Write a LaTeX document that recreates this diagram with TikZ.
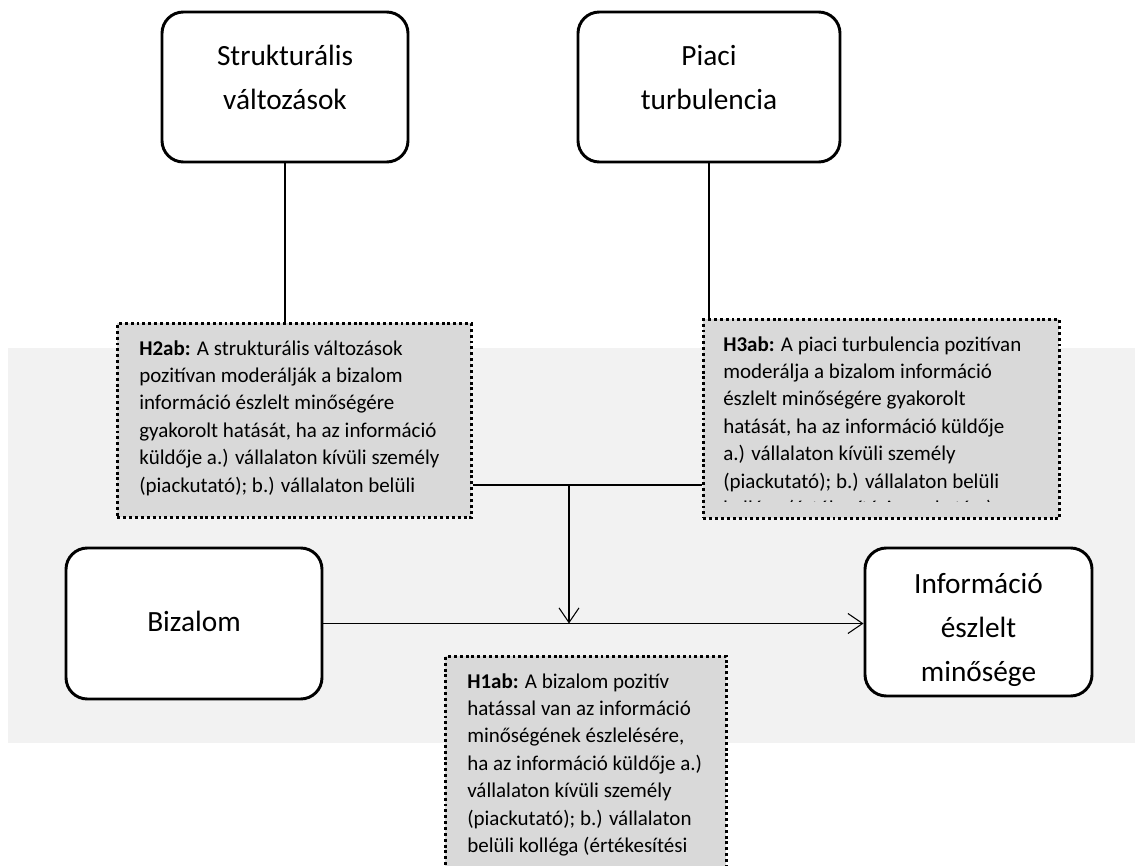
\documentclass[tikz,border=0pt]{standalone}
\usepackage{fontspec}
\setmainfont{Carlito}
\usetikzlibrary{arrows.meta}
\definecolor{bgGray}{HTML}{F2F2F2}
\definecolor{hypGray}{HTML}{D9D9D9}
\begin{document}
\begin{tikzpicture}[x=0.75pt, y=-0.75pt,
    box/.style={draw, line width=2.2pt, rounded corners=16pt, fill=white, align=center,
      inner sep=0pt, font=\fontsize{22}{33}\selectfont},
    hbox/.style={draw, fill=hypGray, line width=2.2pt, dash pattern=on 2.2pt off 2.2pt,
      anchor=north west, inner sep=0pt},
    htext/.style={anchor=north west, align=left, inner sep=0pt,
      font=\fontsize{15.75}{20.6}\selectfont},
    link/.style={line width=0.8pt},
    arr/.style={link, -{Straight Barb[length=11pt, width=15pt]}}]
    \clip (0,0) rectangle (1135,866);
    % background band
    \fill[bgGray] (8,348) rectangle (1135,743);
    % main boxes
    \node[box, minimum width=184.5pt, minimum height=112.5pt, text depth=14pt] (strukt) at (285,87) {Strukturális\\változások};
    \node[box, minimum width=196.5pt, minimum height=112.5pt, text depth=14pt] (piaci) at (709,87) {Piaci\\turbulencia};
    \node[box, minimum width=192pt, minimum height=113.25pt, text depth=3pt] (bizalom) at (194,623.5) {Bizalom};
    \node[box, minimum width=170.25pt, minimum height=111pt] (info) at (978.5,622) {\rule{0pt}{27pt}Információ\\észlelt\\minősége};
    % hypothesis boxes
    \node[hbox, minimum width=265.5pt, minimum height=145.5pt] (h2ab) at (116,322) {};
    \node[hbox, minimum width=267pt, minimum height=149.25pt] (h3ab) at (702,318) {};
    \node[hbox, minimum width=210.75pt, minimum height=225pt] (h1ab) at (444,655) {};
    \begin{scope}
      \clip ([yshift=7.5pt]h2ab.south west) rectangle (h2ab.north east);
      \node[htext] (h2txt) at ([xshift=17.25pt, yshift=-13.5pt]h2ab.north west)
        {\textbf{H2ab:} A strukturális változások\\pozitívan moderálják a bizalom\\információ észlelt minőségére\\gyakorolt hatását, ha az információ\\küldője a.) vállalaton kívüli személy\\(piackutató); b.) vállalaton belüli};
    \end{scope}
    \begin{scope}
      \clip ([yshift=14pt]h3ab.south west) rectangle (h3ab.north east);
      \node[htext] (h3txt) at ([xshift=15.75pt, yshift=-13.5pt]h3ab.north west)
        {\textbf{H3ab:} A piaci turbulencia pozitívan\\moderálja a bizalom információ\\észlelt minőségére gyakorolt\\hatását, ha az információ küldője\\a.) vállalaton kívüli személy\\(piackutató); b.) vállalaton belüli\\kolléga (értékesítési munkatárs)};
    \end{scope}
    \node[htext] (h1txt) at ([xshift=17.25pt, yshift=-13.5pt]h1ab.north west)
      {\textbf{H1ab:} A bizalom pozitív\\hatással van az információ\\minőségének észlelésére,\\ha az információ küldője a.)\\vállalaton kívüli személy\\(piackutató); b.) vállalaton\\belüli kolléga (értékesítési};
    % connectors
    \coordinate (jn) at (569,485);
    \draw[link] (strukt.south) -- (strukt.south |- h2ab.north);
    \draw[link] (piaci.south) -- (piaci.south |- h3ab.north);
    \draw[link] (h2ab.east |- jn) -- (h3ab.west |- jn);
    \draw[arr] (jn) -- (jn |- bizalom.east);
    \draw[arr] (bizalom.east) -- (bizalom.east -| info.west);
\end{tikzpicture}
\end{document}
